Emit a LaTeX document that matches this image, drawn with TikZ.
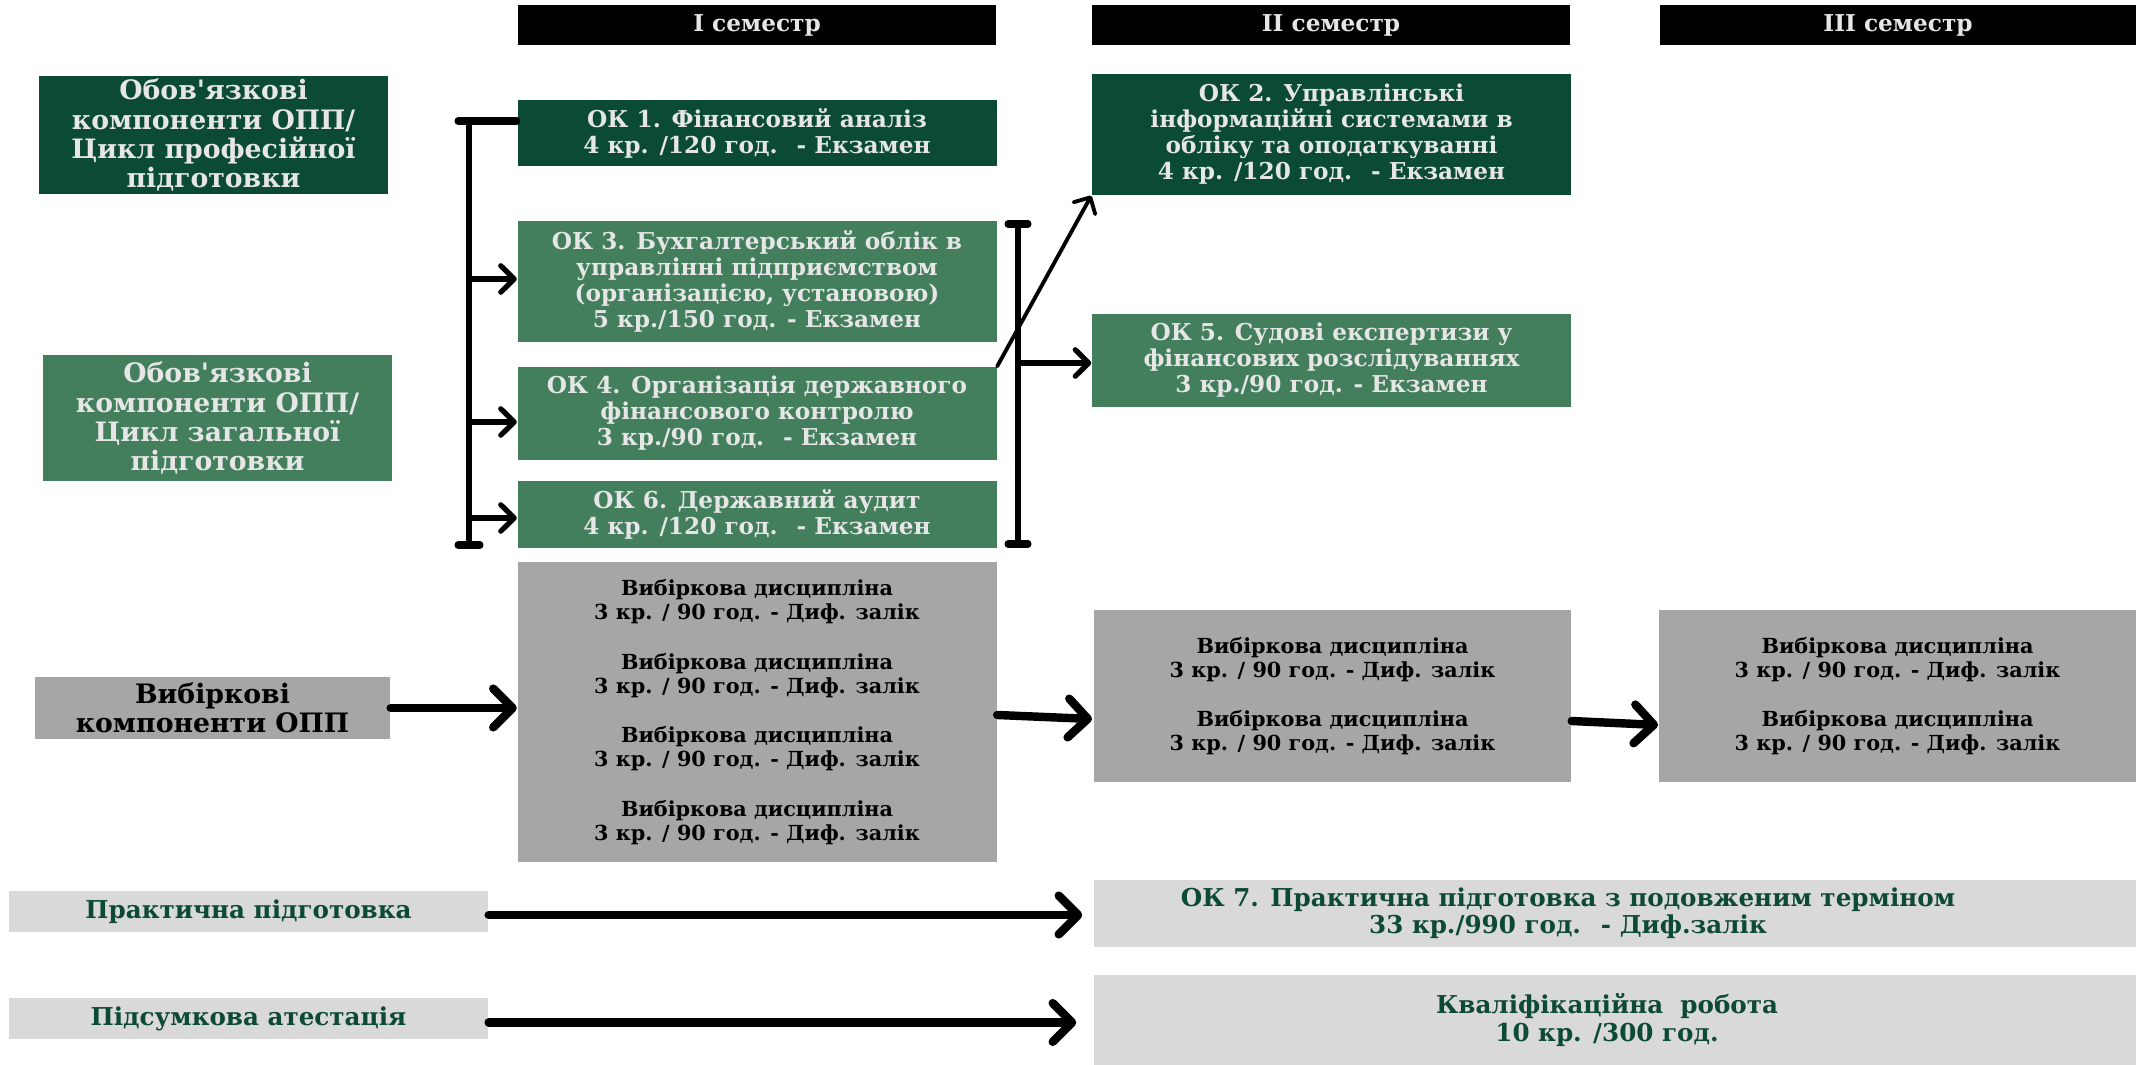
\documentclass[tikz,border=0pt]{standalone}
\usepackage{fontspec}
\setmainfont{DejaVu Serif}
\usetikzlibrary{arrows.meta}
\definecolor{dkgreen}{HTML}{0B4A35}
\definecolor{mdgreen}{HTML}{437E5D}
\definecolor{grbox}{HTML}{A6A6A6}
\definecolor{ltbox}{HTML}{D9D9D9}
\definecolor{ltext}{HTML}{E6E6E6}
\definecolor{txtgreen}{HTML}{0D4A33}
\tikzset{
  sz/.style n args={2}{minimum width=#1*0.01cm, minimum height=#2*0.01cm},
  box/.style={inner sep=0pt, align=center, font=\bfseries\fontsize{6.6}{7.4}\selectfont},
  hdr/.style={box, fill=black, text=ltext, font=\bfseries\fontsize{6.6}{7}\selectfont},
  dk/.style={box, fill=dkgreen, text=ltext},
  md/.style={box, fill=mdgreen, text=ltext},
  gr/.style={box, fill=grbox, text=black, font=\bfseries\fontsize{5.9}{6.8}\selectfont},
  lt/.style={box, fill=ltbox, text=txtgreen, font=\bfseries\fontsize{7}{7.7}\selectfont},
  lbig/.style={font=\bfseries\fontsize{7.6}{8.25}\selectfont},
  ltxt/.style={inner sep=0pt, align=center, text=txtgreen, font=\bfseries\fontsize{7}{7.7}\selectfont},
  bigarr/.style={line width=2.4pt, line cap=round, line join=round, -{Straight Barb[length=5.5pt,width=11pt,round]}},
  midarr/.style={line width=1.5pt, line cap=round, line join=round, -{Straight Barb[length=3.8pt,width=7.5pt,round]}},
  thinarr/.style={line width=1.1pt, line cap=round, line join=round, -{Straight Barb[length=3.5pt,width=7pt,round]}},
  brk/.style={line width=1.5pt},
  tick/.style={line width=2pt, line cap=round},
}
\begin{document}
\begin{tikzpicture}[x=0.01cm,y=-0.01cm]
\useasboundingbox (0,0) rectangle (2136,1065);

% headers
\node[hdr, sz={478}{40}] (h1) at (757,25) {I семестр};
\node[hdr, sz={478}{40}] (h2) at (1331,25) {II семестр};
\node[hdr, sz={476}{40}] (h3) at (1898,25) {III семестр};

% left column
\node[dk, lbig, sz={349}{118}] (prof) at (213.5,135) {Обов\textquotesingle язкові\\компоненти ОПП/\\Цикл професійної\\підготовки};
\node[md, lbig, sz={349}{126}] (gen) at (217.5,418) {Обов\textquotesingle язкові\\компоненти ОПП/\\Цикл загальної\\підготовки};
\node[gr, lbig, sz={355}{62}] (vyb) at (212.5,708) {Вибіркові\\компоненти ОПП};
\node[lt, sz={479}{41}] (prakt) at (248.5,911.5) {Практична підготовка};
\node[lt, sz={479}{41}] (pidsum) at (248.5,1018.5) {Підсумкова атестація};

% semester I
\node[dk, sz={479}{66}] (ok1) at (757,133) {ОК 1. Фінансовий аналіз\\4 кр. /120 год.~ - Екзамен};
\node[md, sz={479}{121}] (ok3) at (757,281.5) {ОК 3. Бухгалтерський облік в\\управлінні підприємством\\(організацією, установою)\\5 кр./150 год. - Екзамен};
\node[md, sz={479}{93}] (ok4) at (757,413.5) {ОК 4. Організація державного\\фінансового контролю\\3 кр./90 год.~ - Екзамен};
\node[md, sz={479}{67}] (ok6) at (757,514.5) {ОК 6. Державний аудит\\4 кр. /120 год.~ - Екзамен};
\node[gr, sz={479}{300}] (el1) at (757,712) {Вибіркова дисципліна\\3 кр. / 90 год. - Диф. залік\\[7.3pt]Вибіркова дисципліна\\3 кр. / 90 год. - Диф. залік\\[7.3pt]Вибіркова дисципліна\\3 кр. / 90 год. - Диф. залік\\[7.3pt]Вибіркова дисципліна\\3 кр. / 90 год. - Диф. залік};

% semester II
\node[dk, sz={479}{121}] (ok2) at (1331.5,134.5) {ОК 2. Управлінські\\інформаційні системами в\\обліку та оподаткуванні\\4 кр. /120 год.~ - Екзамен};
\node[md, sz={479}{93}] (ok5) at (1331.5,360.5) {ОК 5. Судові експертизи у\\фінансових розслідуваннях\\3 кр./90 год. - Екзамен};
\node[gr, sz={477}{172}] (el2) at (1332.5,696) {Вибіркова дисципліна\\3 кр. / 90 год. - Диф. залік\\[7.3pt]Вибіркова дисципліна\\3 кр. / 90 год. - Диф. залік};
\node[lt, sz={1042}{67}] (ok7) at (1615,913.5) {};
\node[ltxt] (ok7t) at (1568,913) {ОК 7. Практична підготовка з подовженим терміном\\33 кр./990 год.~ - Диф.залік};
\node[lt, sz={1042}{90}] (kval) at (1615,1020) {};
\node[ltxt] (kvalt) at (1607,1020) {Кваліфікаційна~ робота\\10 кр. /300 год.};

% semester III
\node[gr, sz={477}{172}] (el3) at (1897.5,696) {Вибіркова дисципліна\\3 кр. / 90 год. - Диф. залік\\[7.3pt]Вибіркова дисципліна\\3 кр. / 90 год. - Диф. залік};

% left bracket
\coordinate (lbt) at (469,121);
\coordinate (lbb) at (469,545);
\draw[brk] (lbt) -- (lbb);
\draw[tick] ([xshift=-0.11cm]lbt) -- (lbt -| ok1.west);
\draw[tick] ([xshift=-0.11cm]lbb) -- ([xshift=0.11cm]lbb);
\coordinate (la3) at (469,279);
\coordinate (la4) at (469,422);
\coordinate (la6) at (469,518);
\draw[midarr] (la3) -- (la3 -| ok3.west);
\draw[midarr] (la4) -- (la4 -| ok4.west);
\draw[midarr] (la6) -- (la6 -| ok6.west);

% right bracket
\coordinate (rbt) at (1018,224);
\coordinate (rbb) at (1018,544);
\draw[brk] (rbt) -- (rbb);
\draw[tick] ([xshift=-0.1cm]rbt) -- ([xshift=0.1cm]rbt);
\draw[tick] ([xshift=-0.1cm]rbb) -- ([xshift=0.1cm]rbb);
\coordinate (rb5) at (1018,363);
\draw[midarr] (rb5) -- (rb5 -| ok5.west);

% diagonal
\draw[thinarr] (ok4.north east) -- (ok2.south west);

% elective arrows
\draw[bigarr] (vyb.east) -- (vyb.east -| el1.west);
\coordinate (e12) at (1092,719);
\draw[bigarr] ([yshift=-0.03cm]el1.east) -- (e12);
\coordinate (e23) at (1658,725);
\draw[bigarr] ([yshift=-0.25cm]el2.east) -- (e23);

% bottom arrows
\draw[bigarr, shorten >=0.11cm] ([yshift=-0.035cm]prakt.east) -- ([yshift=-0.035cm]prakt.east -| ok7.west);
\draw[bigarr, shorten >=0.17cm] ([yshift=-0.04cm]pidsum.east) -- ([yshift=-0.04cm]pidsum.east -| kval.west);
\end{tikzpicture}
\end{document}
